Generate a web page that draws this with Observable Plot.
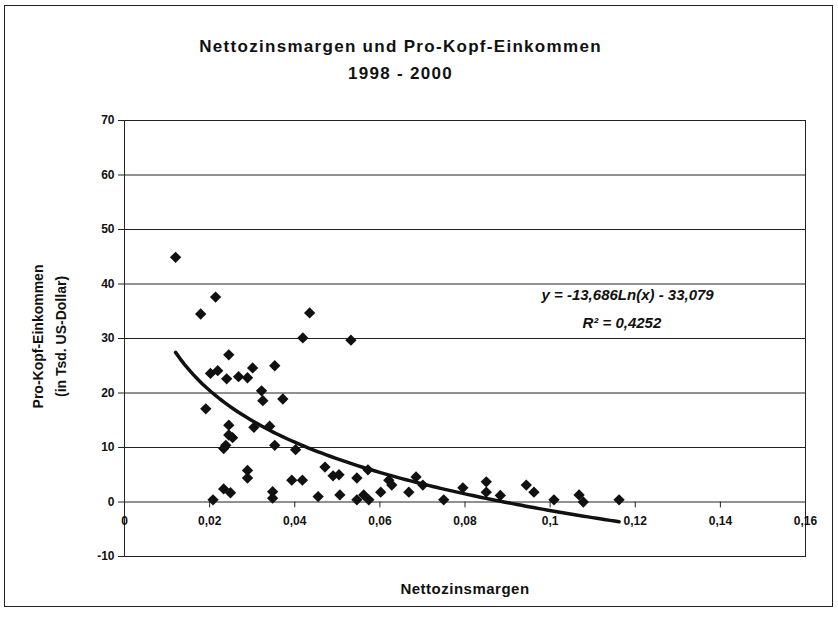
<!DOCTYPE html>
<html><head><meta charset="utf-8">
<script src="https://cdn.jsdelivr.net/npm/d3@7"></script>
<script src="https://cdn.jsdelivr.net/npm/@observablehq/plot@0.6"></script>
<style>
body{margin:0;background:#fff;}
#wrap{position:relative;width:838px;height:618px;}
#border{position:absolute;left:4px;top:5px;width:829px;height:602px;border:1.5px solid #222;box-sizing:border-box;}
#wrap svg{position:absolute;left:0;top:0;}
</style></head><body><div id="wrap"><div id="border"></div></div>
<script>
// Net interest margin (x) and per-capita income in thousand USD (y)
const marginX = [0.012,0.0214,0.0179,0.0435,0.0419,0.0532,0.0245,0.0353,0.0301,0.0202,0.0219,0.024,0.0268,0.0289,0.0322,0.0325,0.0372,0.0191,0.0245,0.0304,0.0341,0.0245,0.0254,0.0238,0.0233,0.0353,0.0402,0.0289,0.0289,0.0393,0.0418,0.0233,0.0249,0.0208,0.0348,0.0348,0.0455,0.0471,0.049,0.0504,0.0506,0.0546,0.0546,0.0562,0.0574,0.0572,0.0602,0.0621,0.0628,0.0668,0.0685,0.0701,0.075,0.0795,0.085,0.085,0.0883,0.0944,0.0962,0.1009,0.1068,0.1078,0.1162];
const incomeY = [44.9,37.6,34.5,34.7,30.1,29.7,27.0,25.0,24.6,23.6,24.1,22.6,23.0,22.8,20.4,18.6,18.9,17.1,14.1,13.7,13.9,12.3,11.8,10.4,9.8,10.4,9.6,5.8,4.4,4.0,4.0,2.4,1.7,0.4,1.9,0.7,1.0,6.4,4.8,5.0,1.3,4.4,0.4,1.3,0.4,5.9,1.8,4.0,3.1,1.8,4.6,3.1,0.4,2.6,3.7,1.8,1.2,3.1,1.8,0.4,1.3,0.0,0.4];
// Logarithmic trendline as printed on the chart: y = -13,686 Ln(x) - 33,079
const trendA = -13.686, trendB = -33.079;
const trendXStart = 0.012, trendXEnd = 0.1162;
const xTicks = [0,0.02,0.04,0.06,0.08,0.1,0.12,0.14,0.16];
const xTickLabels = ["0","0,02","0,04","0,06","0,08","0,1","0,12","0,14","0,16"];
const yTicks = [-10,0,10,20,30,40,50,60,70];
const titleText = "Nettozinsmargen und Pro-Kopf-Einkommen\n1998 - 2000";
const xLabel = "Nettozinsmargen";
const yLabel = "Pro-Kopf-Einkommen\n(in Tsd. US-Dollar)";
const eqText = "y = -13,686Ln(x) - 33,079";
const r2Text = "R\u00B2 = 0,4252";

const points = marginX.map((x, i) => ({x, y: incomeY[i]}));
const trend = d3.range(trendXStart, trendXEnd + 1e-9, (trendXEnd - trendXStart) / 100)
  .map(x => ({x, y: trendA * Math.log(x) + trendB}));

const tickShape = {draw(context, l) { context.moveTo(0, 0); context.lineTo(0, -l); }};
const font = "'Liberation Sans', Arial, sans-serif";

const chart = Plot.plot({
  width: 838, height: 618,
  marginLeft: 124, marginRight: 33, marginTop: 120, marginBottom: 62,
  style: {fontFamily: font, fontWeight: "bold", fontSize: "12px", background: "transparent", color: "#111", overflow: "visible"},
  x: {domain: [0, 0.16], axis: null},
  y: {domain: [-10, 70], axis: null},
  marks: [
    Plot.ruleY(yTicks, {stroke: "#222", strokeWidth: 1}),
    Plot.frame({stroke: "#222", strokeWidth: 1}),
    Plot.axisY(yTicks, {tickSize: 6, tickPadding: 4, tickFormat: d => String(d), label: null, fontSize: 12, fontWeight: "bold", stroke: "#222"}),
    Plot.vector(xTicks, {x: d => d, y: () => 0, length: 5, rotate: 180, anchor: "start", stroke: "#222", strokeWidth: 1, shape: tickShape}),
    Plot.text(xTicks, {x: d => d, y: () => 0, dy: 19, text: (d, i) => xTickLabels[i], fontSize: 12, fontWeight: "bold", fill: "#111"}),
    Plot.line(trend, {x: "x", y: "y", stroke: "#111", strokeWidth: 3.5}),
    Plot.dot(points, {x: "x", y: "y", symbol: "diamond2", r: 5.1, fill: "#111", stroke: "none"}),
    Plot.text([titleText], {frameAnchor: "top-left", dx: 276, dy: -64, text: d => d, textAnchor: "middle", fontSize: 17, fontWeight: "bold", lineHeight: 1.6, fill: "#111", lineAnchor: "middle", className: "title-text"}),
    Plot.text([xLabel], {frameAnchor: "bottom", dy: 37, text: d => d, textAnchor: "middle", fontSize: 15, fontWeight: "bold", fill: "#111", className: "xlabel-text"}),
    Plot.text([yLabel], {frameAnchor: "left", dx: -77, dy: -2, rotate: -90, text: d => d, textAnchor: "middle", fontSize: 14, fontWeight: "bold", lineHeight: 1.6, fill: "#111"}),
    Plot.text([eqText], {frameAnchor: "top-left", dx: 417, dy: 169, text: d => d, textAnchor: "start", fontSize: 15, fontWeight: "bold", fontStyle: "italic", fill: "#111"}),
    Plot.text([r2Text], {frameAnchor: "top-left", dx: 458, dy: 197, text: d => d, textAnchor: "start", fontSize: 15, fontWeight: "bold", fontStyle: "italic", fill: "#111"})
  ]
});
d3.select(chart).selectAll("g.title-text text").style("letter-spacing", "1.3px");
d3.select(chart).selectAll("g.xlabel-text text").style("letter-spacing", "0.5px");
document.getElementById("wrap").appendChild(chart);
</script>
</body></html>
